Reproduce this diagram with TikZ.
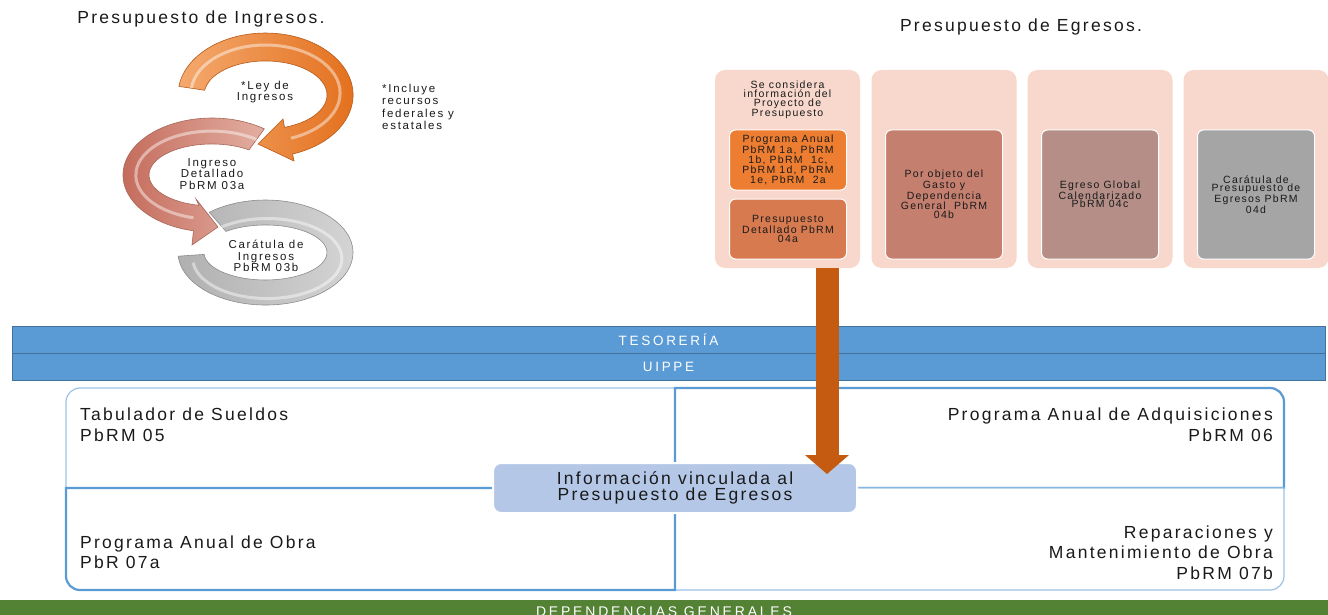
\documentclass[tikz,border=0pt]{standalone}
\usepackage{fontspec}
\setmainfont{Liberation Sans}[LetterSpace=20]
\newfontfamily\fbig{Liberation Sans}[LetterSpace=13]
\newfontfamily\fsmall{Liberation Sans}[LetterSpace=12]
\newfontfamily\fcirc{Liberation Sans}[LetterSpace=15]
\usetikzlibrary{arrows.meta}
\definecolor{peach}{HTML}{F8D8CC}
\definecolor{boxorange}{HTML}{ED7D31}
\definecolor{boxorangeb}{HTML}{D77A50}
\definecolor{boxrose}{HTML}{C47F6F}
\definecolor{boxmauve}{HTML}{B48E87}
\definecolor{boxgray}{HTML}{A5A5A5}
\definecolor{bandblue}{HTML}{5B9BD5}
\definecolor{bandedge}{HTML}{41719C}
\definecolor{qlightc}{HTML}{9DC3E6}
\definecolor{qdarkc}{HTML}{5B9BD5}
\definecolor{centerblue}{HTML}{B4C7E7}
\definecolor{arrowbrown}{HTML}{C55A11}
\definecolor{depgreen}{HTML}{548235}
\definecolor{orlight}{HTML}{F4A96E}
\definecolor{ordark}{HTML}{E36F1C}
\definecolor{oredge}{HTML}{B85A18}
\definecolor{pkdark}{HTML}{C46A5A}
\definecolor{pklight}{HTML}{E2AFA2}
\definecolor{pkedge}{HTML}{A8675A}
\definecolor{gydark}{HTML}{B0B0B0}
\definecolor{gylight}{HTML}{D6D6D6}
\definecolor{gyedge}{HTML}{8C8C8C}
\definecolor{txt}{HTML}{1A1A1A}
\begin{document}
\begin{tikzpicture}[x=1pt,y=1pt,
  title/.style={font=\fbig\fontsize{17.5}{19}\selectfont, inner sep=0pt, anchor=base, text=txt},
  circtext/.style={font=\fcirc\fontsize{11.5}{11.3}\selectfont, align=center, inner sep=0pt, text=txt},
  notetext/.style={font=\fcirc\fontsize{11.5}{12.3}\selectfont, align=left, inner sep=0pt, text=txt},
  egouter/.style={fill=peach, rounded corners=10pt, minimum width=145pt, minimum height=198pt, inner sep=0pt},
  eghead/.style={font=\fsmall\fontsize{10.5}{8.6}\selectfont, align=center, inner sep=0pt, text=txt},
  egin/.style={rounded corners=6pt, draw=white, line width=1pt, minimum width=117pt, font=\fsmall\fontsize{10.5}{8.6}\selectfont, align=center, inner sep=0pt, text=txt},
  band/.style={fill=bandblue, draw=bandedge, line width=1pt, minimum width=1313pt, minimum height=27pt, text=white, font=\fontsize{13.5}{15}\selectfont, inner sep=0pt},
  qtext/.style={font=\fbig\fontsize{17.5}{20.5}\selectfont, inner sep=0pt, text=txt},
  qlight/.style={draw=qlightc, line width=1.2pt, fill=white},
  qdark/.style={draw=qdarkc, line width=2.2pt, fill=white},
  ringorange/.style={left color=orlight, right color=ordark, draw=oredge, line width=0.6pt},
  ringpink/.style={left color=pkdark, right color=pklight, draw=pkedge, line width=0.6pt},
  ringgray/.style={left color=gydark, right color=gylight, draw=gyedge, line width=0.6pt},
  gap/.style={draw=white, line width=2.5pt},
  shine/.style={draw=white, opacity=0.45, line width=3pt}
]
\useasboundingbox (0,0) rectangle (1328,-615);
\clip (0,0) rectangle (1328,-615);

% ---------- titles
\node[title] (tIng) at (201,-24) {Presupuesto de Ingresos.};
\node[title] (tEgr) at (1021,-32) {Presupuesto de Egresos.};

% ---------- circular arrows (gray, pink, orange)
\path[gap] (209.3,-212.3) arc[start angle=130, end angle=-176, x radius=87.5, y radius=52.5]
  -- (204.1,-254.4) arc[start angle=-176, end angle=130, x radius=61.5, y radius=27.5] -- cycle;
\path[ringgray] (209.3,-212.3) arc[start angle=130, end angle=-176, x radius=87.5, y radius=52.5]
  -- (204.1,-254.4) arc[start angle=-176, end angle=130, x radius=61.5, y radius=27.5] -- cycle;
\draw[shine] (221.5,-227) arc[start angle=128, end angle=-174, x radius=74.5, y radius=40];

\path[gap] (264.3,-128.9) arc[start angle=54, end angle=258, x radius=89, y radius=57]
  -- (192,-245) -- (218,-227) -- (196,-199) -- (198.9,-205.3)
  arc[start angle=258, end angle=54, x radius=63, y radius=31] -- cycle;
\path[ringpink] (264.3,-128.9) arc[start angle=54, end angle=258, x radius=89, y radius=57]
  -- (192,-245) -- (218,-227) -- (196,-199) -- (198.9,-205.3)
  arc[start angle=258, end angle=54, x radius=63, y radius=31] -- cycle;
\draw[shine] (256.5,-139.5) arc[start angle=54, end angle=256, x radius=76, y radius=44];

\path[gap] (178.9,-86.4) arc[start angle=172, end angle=-72, x radius=87.5, y radius=62]
  -- (294,-161) -- (258,-144) -- (283,-119) -- (284.5,-127.3)
  arc[start angle=-72, end angle=172, x radius=61.5, y radius=34] -- cycle;
\path[ringorange] (178.9,-86.4) arc[start angle=172, end angle=-72, x radius=87.5, y radius=62]
  -- (294,-161) -- (258,-144) -- (283,-119) -- (284.5,-127.3)
  arc[start angle=-72, end angle=172, x radius=61.5, y radius=34] -- cycle;
\draw[shine] (191.5,-88) arc[start angle=174, end angle=-70, x radius=74.5, y radius=48];

\node[circtext] (cLey) at (265,-92) {*Ley de\\Ingresos};
\node[circtext] (cDet) at (212,-174) {Ingreso\\Detallado\\PbRM 03a};
\node[circtext] (cCar) at (266,-256) {Car\'atula de\\Ingresos\\PbRM 03b};
\node[notetext, anchor=west] (nota) at (382,-107) {*Incluye\\recursos\\federales y\\estatales};

% ---------- Presupuesto de Egresos boxes
\node[egouter] (e1) at (787.5,-169) {};
\node[egouter] (e2) at (944,-169) {};
\node[egouter] (e3) at (1100,-169) {};
\node[egouter] (e4) at (1256,-169) {};
\node[eghead] (h1) at (787.5,-100) {Se considera\\informaci\'on del\\Proyecto de\\Presupuesto};
\node[egin, fill=boxorange, minimum height=60pt] (i1a) at (788,-160) {Programa Anual\\PbRM 1a, PbRM\\1b, PbRM\ \ 1c,\\PbRM 1d, PbRM\\1e, PbRM\ \ 2a};
\node[egin, fill=boxorangeb, minimum height=60pt] (i1b) at (788,-229) {Presupuesto\\Detallado PbRM\\04a};
\node[egin, fill=boxrose, minimum height=129pt] (i2) at (944,-194.5) {Por objeto del\\Gasto y\\Dependencia\\General\ \ PbRM\\04b};
\node[egin, fill=boxmauve, minimum height=129pt] (i3) at (1100,-194.5) {Egreso Global\\Calendarizado\\PbRM 04c};
\node[egin, fill=boxgray, minimum height=129pt] (i4) at (1256,-194.5) {Car\'atula de\\Presupuesto de\\Egresos PbRM\\04d};

% ---------- bands
\node[band] (tes) at (668.5,-339.5) {TESORER\'IA};
\node[band] (uip) at (668.5,-366.5) {UIPPE};

% ---------- quadrants
\path[qlight] (66,-488) -- (66,-402) arc[start angle=180, end angle=90, radius=14] -- (675,-388) -- (675,-488) -- cycle;
\path[qdark] (675,-488) -- (675,-388) -- (1270,-388) arc[start angle=90, end angle=0, radius=14] -- (1284,-488) -- cycle;
\path[qlight] (675,-488) -- (1284,-488) -- (1284,-576) arc[start angle=0, end angle=-90, radius=14] -- (675,-590) -- cycle;
\path[qdark] (66,-488) -- (675,-488) -- (675,-590) -- (80,-590) arc[start angle=270, end angle=180, radius=14] -- cycle;

\node[qtext, anchor=north west, align=left] (q1) at (80,-408) {Tabulador de Sueldos\\PbRM 05};
\node[qtext, anchor=north east, align=right] (q2) at (1273,-408) {Programa Anual de Adquisiciones\\PbRM 06};
\node[qtext, anchor=north west, align=left] (q3) at (80,-535.5) {Programa Anual de Obra\\PbR 07a};
\node[qtext, anchor=north east, align=right] (q4) at (1273,-525.5) {Reparaciones y\\Mantenimiento de Obra\\PbRM 07b};

\node[fill=centerblue, draw=white, line width=2pt, rounded corners=8pt, minimum width=364pt, minimum height=50pt, inner sep=0pt, align=center, text=txt, font=\fbig\fontsize{17.5}{16.5}\selectfont] (info) at (675,-488) {Informaci\'on vinculada al\\Presupuesto de Egresos};

% ---------- green band
\node[fill=depgreen, minimum width=1330pt, minimum height=24pt, inner sep=0pt, text=white, font=\fontsize{14}{16}\selectfont] (dep) at (664,-612) {DEPENDENCIAS GENERALES};

% ---------- big arrow
\coordinate (aE) at (827,-474);
\draw[arrowbrown, line width=23pt, -{Triangle[length=19pt, width=44pt, line width=0pt]}] (e1.south -| aE) -- (aE);
\end{tikzpicture}
\end{document}
